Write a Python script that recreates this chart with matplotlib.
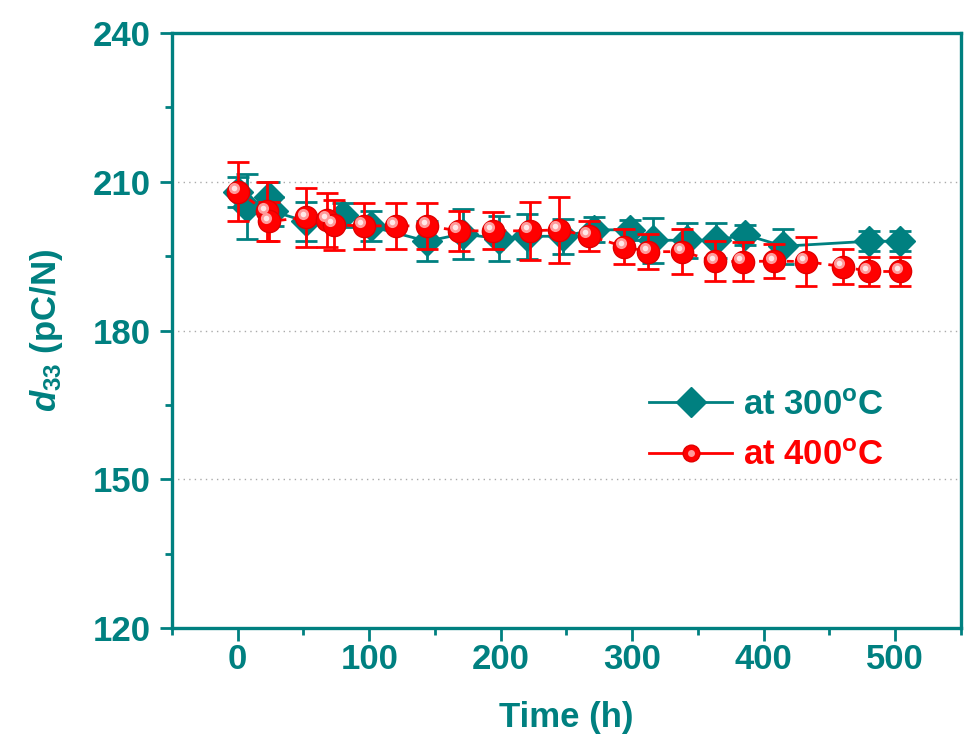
import numpy as np
import matplotlib
matplotlib.use("Agg")
import matplotlib.pyplot as plt
from matplotlib.lines import Line2D
from matplotlib.legend_handler import HandlerTuple
from matplotlib.transforms import offset_copy

# ---- data ----
t_300 = [0, 7, 24, 27, 52, 80, 101, 144, 171, 199, 220, 247, 271, 298, 316, 342, 364, 386, 415, 480, 504]
d33_300 = [208, 205, 207, 204, 202, 203.3, 201, 198, 199.5, 198.5, 199, 199, 200.3, 200.3,
           198.2, 198.2, 198.2, 199.3, 197, 198, 198]
err_300 = [3, 6.5, 3, 3, 4, 2.5, 3, 4, 5, 4.5, 4.5, 3.5, 2.5, 2, 4.5, 3.5, 3.5, 2, 3.5, 2, 2]

t_400 = [0, 22, 24, 52, 68, 73, 96, 120, 144, 168, 194, 222, 244, 267, 294, 312, 338, 363,
         384, 408, 432, 460, 480, 504]
d33_400 = [208, 204, 202, 202.8, 202.3, 201.3, 201.1, 201.1, 201.1, 200.1, 200.1, 200.1, 200.3,
           199.1, 196.9, 195.9, 195.9, 194, 193.9, 194, 193.9, 192.9, 191.9, 191.9]
err_400 = [6, 6, 4, 6, 5.5, 5, 4.7, 4.7, 4.7, 4, 3.7, 5.8, 6.7, 3, 3.5, 3.5, 4.5, 4, 4, 3.5,
           5, 3.5, 3, 3]

labels = ["at 300$^\\mathbf{o}$C", "at 400$^\\mathbf{o}$C"]

teal = "#008080"
red = "#ff0000"

plt.rcParams["font.family"] = "Liberation Sans"
plt.rcParams["font.weight"] = "bold"
plt.rcParams["axes.labelweight"] = "bold"
plt.rcParams["mathtext.fontset"] = "custom"
plt.rcParams["mathtext.rm"] = "Liberation Sans:bold"
plt.rcParams["mathtext.it"] = "Liberation Sans:italic:bold"
plt.rcParams["mathtext.bf"] = "Liberation Sans:bold"

fig = plt.figure(figsize=(9.77, 7.36), dpi=100)
ax = fig.add_axes([0.176, 0.1467, 0.8076, 0.8085])

# ---- 300 C series ----
ax.errorbar(t_300, d33_300, yerr=err_300, color=teal, lw=2, marker="D", ms=15,
            mfc=teal, mec=teal, ecolor=teal, elinewidth=2, capsize=8, capthick=2, zorder=3)

# ---- 400 C series (red spheres) ----
ax.errorbar(t_400, d33_400, yerr=err_400, color=red, lw=2, ls=(0, (2.5, 2.5)), marker="o",
            ms=16, mfc=red, mec="#e00000", ecolor=red, elinewidth=2, capsize=8, capthick=2,
            zorder=4)
hl = offset_copy(ax.transData, fig=fig, x=-2.5, y=2.5, units="points")
ax.plot(t_400, d33_400, ls="none", marker="o", ms=8, mfc="#ff9a9a", mec="none",
        transform=hl, zorder=5)
ax.plot(t_400, d33_400, ls="none", marker="o", ms=4, mfc="#ffe8e8", mec="none",
        transform=hl, zorder=6)

# ---- axes ----
ax.set_xlim(-50, 550)
ax.set_ylim(120, 240)
ax.set_xticks(np.arange(0, 501, 100))
ax.set_xticks(np.arange(-50, 551, 50), minor=True)
ax.set_yticks(np.arange(120, 241, 30))
ax.set_yticks(np.arange(120, 241, 15), minor=True)
ax.yaxis.grid(True, which="major", ls=(0, (1, 3)), color="#aaaaaa", lw=1)
ax.set_axisbelow(True)

for s in ax.spines.values():
    s.set_color(teal)
    s.set_linewidth(2.4)
ax.tick_params(which="both", direction="out", color=teal, width=2, labelcolor=teal,
               labelsize=25, top=False, right=False)
ax.tick_params(which="major", length=9)
ax.tick_params(which="minor", length=5)
ax.tick_params(axis="y", pad=6)
ax.tick_params(axis="x", pad=2)

ax.set_xlabel("Time (h)", fontsize=25, color=teal, labelpad=18)
ax.set_ylabel("$\\mathit{d}_{\\mathbf{33}}$ (pC/N)", fontsize=25, color=teal, labelpad=20)

# ---- legend ----
h1 = Line2D([], [], color=teal, lw=2, marker="D", ms=15, mfc=teal, mec=teal)
h2a = Line2D([], [], color=red, lw=2, marker="o", ms=12, mfc=red, mec="#e00000")
h2b = Line2D([], [], ls="none", marker="o", ms=5, mfc="#ff9a9a", mec="none")
leg = ax.legend([h1, (h2a, h2b)], labels, handler_map={tuple: HandlerTuple(ndivide=1)},
                loc="upper left", bbox_to_anchor=(0.565, 0.455), frameon=False, fontsize=25,
                handlelength=2.4, handletextpad=0.3, labelspacing=0.5)
for txt, c in zip(leg.get_texts(), [teal, red]):
    txt.set_color(c)

fig.savefig("out.png", dpi=100)
